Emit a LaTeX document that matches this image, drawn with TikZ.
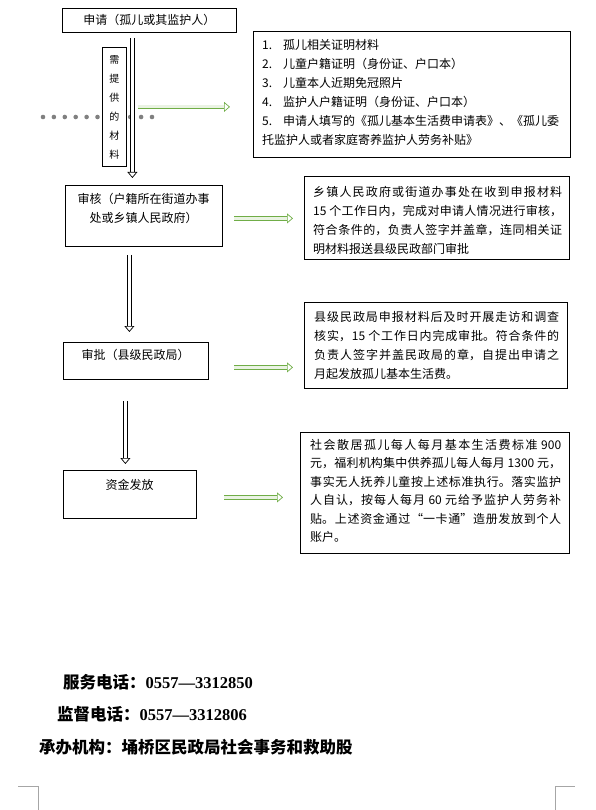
\documentclass[tikz,border=0pt]{standalone}
\usepackage{fontspec}
\setmainfont{Liberation Serif}
\newfontfamily\cjk{Noto Sans CJK SC}
\XeTeXlinebreaklocale "zh"
\XeTeXlinebreakskip=0pt plus 2pt
\usetikzlibrary{arrows.meta}

\definecolor{officegreen}{RGB}{112,173,71}
\definecolor{markgray}{RGB}{128,128,128}

\tikzset{
  stepframe/.style={draw, line width=0.8pt, fill=white, inner sep=0pt, anchor=north west},
  boxtext/.style={font=\cjk\fontsize{12}{19}\selectfont, inner sep=0pt},
  needtext/.style={font=\cjk\fontsize{10}{19}\selectfont, align=center},
  foottext/.style={font=\cjk\bfseries\fontsize{16.5}{20}\selectfont, inner sep=0pt, anchor=west},
  downarrow/.style={draw=black, double=white, double distance=3pt, line width=0.7pt,
    -{Triangle[open, length=6pt, width=10pt, line width=0.7pt]}},
  sidearrow/.style={downarrow, draw=officegreen, double=officegreen!15},
}

\begin{document}
\begin{tikzpicture}[x=1pt, y=-1pt]
\useasboundingbox (0,0) rectangle (595,810);

% dotted leader behind the side box
\draw[markgray, line width=4.6pt, line cap=round, dash pattern=on 0pt off 10.9pt] (43,117) -- (153,117);

% left column
\node[stepframe, minimum width=174pt, minimum height=24pt, boxtext] (apply) at (62,8) {申请（孤儿或其监护人）};
\node[stepframe, minimum width=24pt, minimum height=119pt, needtext] (needbox) at (102,47) {需\\提\\供\\的\\材\\料};

\node[stepframe, minimum width=157pt, minimum height=61pt] (review) at (65,185) {};
\node[boxtext, align=center, anchor=north] (reviewtext) at (143.5,193) {审核（户籍所在街道办事\\处或乡镇人民政府）};

\node[stepframe, minimum width=145pt, minimum height=37pt] (approve) at (63,342) {};
\node[boxtext, anchor=north] (approvetext) at (135.5,349) {审批（县级民政局）};

\node[stepframe, minimum width=133pt, minimum height=48pt] (fund) at (63,470) {};
\node[boxtext, anchor=north] (fundtext) at (129.5,479) {资金发放};

% right column
\node[stepframe, minimum width=317pt, minimum height=126pt] (materials) at (253,31) {};
\node[boxtext, align=left, anchor=north west] (materialstext) at (262,39) {%
\makebox[21pt][l]{1.}孤儿相关证明材料\\
\makebox[21pt][l]{2.}儿童户籍证明（身份证、户口本）\\
\makebox[21pt][l]{3.}儿童本人近期免冠照片\\
\makebox[21pt][l]{4.}监护人户籍证明（身份证、户口本）\\
\makebox[21pt][l]{5.}申请人填写的《孤儿基本生活费申请表》、《孤儿委\\
托监护人或者家庭寄养监护人劳务补贴》};

\node[stepframe, minimum width=265pt, minimum height=83pt] (township) at (304,176) {};
\node[boxtext, text width=249pt, align=justify, anchor=north west] (townshiptext) at (313,186) {乡镇人民政府或街道办事处在收到申报材料\linebreak 15 个工作日内，完成对申请人情况进行审核，\linebreak 符合条件的，负责人签字并盖章，连同相关证\linebreak 明材料报送县级民政部门审批};

\node[stepframe, minimum width=263pt, minimum height=86pt] (county) at (304,302) {};
\node[boxtext, text width=245pt, align=justify, anchor=north west] (countytext) at (314,311) {县级民政局申报材料后及时开展走访和调查\linebreak 核实，15 个工作日内完成审批。符合条件的\linebreak 负责人签字并盖民政局的章，自提出申请之\linebreak 月起发放孤儿基本生活费。};

\node[stepframe, minimum width=269pt, minimum height=121pt] (social) at (300,432) {};
\node[boxtext, font=\cjk\fontsize{12}{18.5}\selectfont, text width=251pt, align=justify, anchor=north west] (socialtext) at (310,439) {社会散居孤儿每人每月基本生活费标准 900\linebreak 元，福利机构集中供养孤儿每人每月 1300 元，\linebreak 事实无人抚养儿童按上述标准执行。落实监护\linebreak 人自认，按每人每月 60 元给予监护人劳务补\linebreak 贴。上述资金通过“一卡通”造册发放到个人\linebreak 账户。};

% flow arrows
\coordinate (down1) at ([xshift=-17pt, yshift=-5pt]apply.south);
\coordinate (down2) at ([xshift=-14.5pt, yshift=-8pt]review.south);
\coordinate (down3) at ([xshift=-10.5pt, yshift=-21pt]approve.south);
\draw[downarrow] (down1) -- ([yshift=7pt]down1 |- review.north);
\draw[downarrow] (down2) -- ([yshift=10pt]down2 |- approve.north);
\draw[downarrow] (down3) -- ([yshift=6pt]down3 |- fund.north);

\coordinate (side1) at ([xshift=11pt]needbox.east);
\coordinate (side2) at ([xshift=11pt, yshift=-2.5pt]review.east);
\coordinate (side3) at ([xshift=25pt, yshift=-6.5pt]approve.east);
\coordinate (side4) at ([xshift=27pt, yshift=-3pt]fund.east);
\draw[sidearrow] (side1) -- ([xshift=-23pt]side1 -| materials.west);
\draw[sidearrow] (side2) -- ([xshift=-11pt]side2 -| township.west);
\draw[sidearrow] (side3) -- ([xshift=-11pt]side3 -| county.west);
\draw[sidearrow] (side4) -- ([xshift=-17pt]side4 -| social.west);

% contact lines
\node[foottext] (service) at (63,682) {服务电话：{\rmfamily 0557—3312850}};
\node[foottext] (supervise) at (57,714) {监督电话：{\rmfamily 0557—3312806}};
\node[foottext] (office) at (39,747) {承办机构：埇桥区民政局社会事务和救助股};

% page corner marks
\draw[markgray!70, line width=0.6pt] (18,786) -- (38,786) -- (38,810);
\draw[markgray!70, line width=0.6pt] (575,786) -- (555,786) -- (555,810);
\end{tikzpicture}
\end{document}
